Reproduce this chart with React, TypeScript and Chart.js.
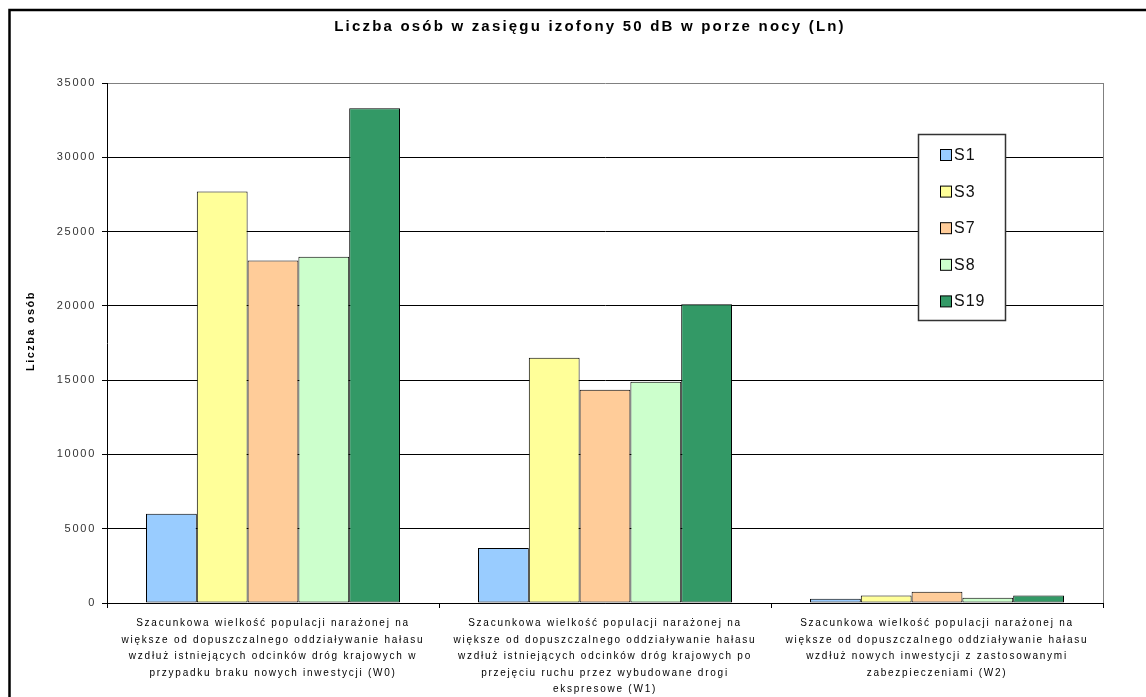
import React, { useEffect, useRef } from "react";
import { Chart, registerables } from "chart.js";

Chart.register(...registerables);

const chartTitle = "Liczba osób w zasięgu izofony 50 dB w porze nocy (Ln)";
const yAxisTitle = "Liczba osób";

const categories: string[][] = [
  [
    "Szacunkowa wielkość populacji narażonej na",
    "większe od dopuszczalnego oddziaływanie hałasu",
    "wzdłuż istniejących odcinków dróg krajowych w",
    "przypadku braku nowych inwestycji (W0)",
  ],
  [
    "Szacunkowa wielkość populacji narażonej na",
    "większe od dopuszczalnego oddziaływanie hałasu",
    "wzdłuż istniejących odcinków dróg krajowych po",
    "przejęciu ruchu przez wybudowane drogi",
    "ekspresowe (W1)",
  ],
  [
    "Szacunkowa wielkość populacji narażonej na",
    "większe od dopuszczalnego oddziaływanie hałasu",
    "wzdłuż nowych inwestycji z zastosowanymi",
    "zabezpieczeniami (W2)",
  ],
];

const seriesLabels = ["S1", "S3", "S7", "S8", "S19"];
const seriesColors = ["#99CCFF", "#FFFF99", "#FFCC99", "#CCFFCC", "#339966"];

const s1 = [6000, 3700, 280];
const s3 = [27700, 16500, 510];
const s7 = [23050, 14350, 760];
const s8 = [23300, 14900, 350];
const s19 = [33300, 20100, 510];

const yTicks = [0, 5000, 10000, 15000, 20000, 25000, 30000, 35000];

const seriesValues = [s1, s3, s7, s8, s19];

const decorPlugin = {
  id: "decor",
  beforeDraw(chart: any) {
    const ctx = chart.ctx;
    ctx.letterSpacing = "1.75px";
  },
  afterDraw(chart: any) {
    const ctx = chart.ctx;
    const area = chart.chartArea;
    ctx.save();
    // outer frame
    ctx.strokeStyle = "#000";
    ctx.lineWidth = 2.5;
    ctx.beginPath();
    ctx.moveTo(9.5, chart.height + 5);
    ctx.lineTo(9.5, 10);
    ctx.lineTo(chart.width + 5, 10);
    ctx.stroke();

    // plot area right border
    ctx.strokeStyle = "#808080";
    ctx.lineWidth = 1;
    ctx.beginPath();
    ctx.moveTo(Math.round(area.right) + 0.5, area.top);
    ctx.lineTo(Math.round(area.right) + 0.5, area.bottom);
    ctx.stroke();

    // title
    ctx.letterSpacing = "2.2px";
    ctx.fillStyle = "#000";
    ctx.font = "bold 15px 'Liberation Sans', Arial, sans-serif";
    ctx.textAlign = "center";
    ctx.textBaseline = "middle";
    ctx.fillText(chartTitle, 590, 27);

    // y axis title
    ctx.letterSpacing = "1.5px";
    ctx.font = "bold 11px 'Liberation Sans', Arial, sans-serif";
    ctx.translate(31, 331);
    ctx.rotate(-Math.PI / 2);
    ctx.fillText(yAxisTitle, 0, 0);
    ctx.setTransform(1, 0, 0, 1, 0, 0);

    // legend
    const lx = 918, ly = 134, lw = 87, lh = 186;
    ctx.fillStyle = "#fff";
    ctx.fillRect(lx, ly, lw, lh);
    ctx.strokeStyle = "#333";
    ctx.lineWidth = 1.5;
    ctx.strokeRect(lx + 0.5, ly + 0.5, lw, lh);
    ctx.letterSpacing = "1px";
    ctx.font = "16px 'Liberation Sans', Arial, sans-serif";
    ctx.textAlign = "left";
    ctx.textBaseline = "middle";
    chart.data.datasets.forEach((ds: any, i: number) => {
      const cy = 155 + i * 36.6;
      ctx.fillStyle = ds.backgroundColor;
      ctx.fillRect(940, cy - 5.5, 11, 11);
      ctx.strokeStyle = "#000";
      ctx.lineWidth = 1;
      ctx.strokeRect(940.5, cy - 5.5, 11, 11);
      ctx.fillStyle = "#111";
      ctx.fillText(ds.label, 954, cy + 0.5);
    });
    ctx.restore();
  },
};

export default function App() {
  const ref = useRef<HTMLCanvasElement | null>(null);

  useEffect(() => {
    if (!ref.current) return;
    const chart = new Chart(ref.current, {
      type: "bar",
      data: {
        labels: categories,
        datasets: seriesLabels.map((label, i) => ({
          label,
          data: seriesValues[i],
          backgroundColor: seriesColors[i],
          borderColor: "#000",
          borderWidth: 1,
          borderSkipped: false,
          categoryPercentage: 0.765,
          barPercentage: 1,
        })),
      },
      options: {
        responsive: false,
        animation: false,
        layout: { padding: { left: 0, right: 43, top: 83, bottom: 0 } },
        plugins: {
          legend: { display: false },
          title: { display: false },
          tooltip: { enabled: false },
        },
        scales: {
          x: {
            offset: true,
            border: { display: true, color: "#000", width: 1 },
            grid: {
              display: true,
              offset: true,
              drawOnChartArea: false,
              drawTicks: true,
              tickLength: 5,
              tickColor: "#000",
            },
            ticks: {
              autoSkip: false,
              maxRotation: 0,
              minRotation: 0,
              padding: 7,
              color: "#000",
              font: { family: "'Liberation Sans', Arial, sans-serif", size: 10, lineHeight: 1.66 },
            },
            afterFit(scale: any) {
              scale.height = 94;
            },
          },
          y: {
            min: 0,
            max: 35000,
            border: { display: true, color: "#000", width: 1 },
            grid: {
              color: (c: any) => (c.tick && c.tick.value === 35000 ? "#808080" : "#000"),
              tickColor: "#000",
              drawTicks: true,
              tickLength: 5,
            },
            afterBuildTicks(scale: any) {
              scale.ticks = yTicks.map((v) => ({ value: v }));
            },
            ticks: {
              padding: 6,
              color: "#333",
              callback: (v: any) => String(v),
              font: { family: "'Liberation Sans', Arial, sans-serif", size: 11 },
            },
            afterFit(scale: any) {
              scale.width = 107;
            },
          },
        },
      },
      plugins: [decorPlugin],
    });
    return () => chart.destroy();
  }, []);

  return (
    <div style={{ position: "absolute", left: 0, top: 0, width: 1146, height: 697, background: "#fff" }}>
      <canvas ref={ref} width={1146} height={697} style={{ display: "block" }} />
    </div>
  );
}
